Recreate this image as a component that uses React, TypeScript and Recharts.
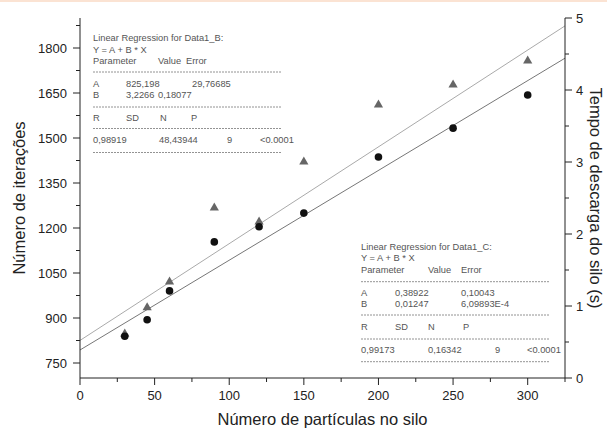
import { ComposedChart, Line, Scatter, XAxis, YAxis } from "recharts";

const particles = [30, 45, 60, 90, 120, 150, 200, 250, 300];
const iterations = [850, 937, 1023, 1270, 1223, 1423, 1613, 1680, 1760];
const dischargeTime = [0.58, 0.81, 1.21, 1.89, 2.1, 2.29, 3.07, 3.47, 3.93];
// regression lines, end points read at x = 0 and x = 325
const fitIterations = [{ x: 0, y: 825.2 }, { x: 325, y: 1873.8 }];
const fitTime = [{ x: 0, y: 0.389 }, { x: 325, y: 4.442 }];

const xTicks = [0, 25, 50, 75, 100, 125, 150, 175, 200, 225, 250, 275, 300, 325];
const leftTicks = [750, 825, 900, 975, 1050, 1125, 1200, 1275, 1350, 1425, 1500, 1575, 1650, 1725, 1800, 1875];
const rightTicks = [0, 0.5, 1, 1.5, 2, 2.5, 3, 3.5, 4, 4.5, 5];

const font = "'Liberation Sans', Arial, sans-serif";
const ink = "#222";
const boxInk = "#555";

const triangleData = particles.map((x, i) => ({ x, y: iterations[i] }));
const circleData = particles.map((x, i) => ({ x, y: dischargeTime[i] }));

function BottomTick({ x, y, payload }: any) {
  const major = payload.value % 50 === 0 && payload.value <= 300;
  return (
    <g>
      <line x1={x} y1={y} x2={x} y2={y + (major ? 7 : 4)} stroke={ink} />
      {major && (
        <text x={x} y={y + 22} textAnchor="middle" fontSize={13} fontFamily={font} fill={ink}>
          {payload.value}
        </text>
      )}
    </g>
  );
}

function TopTick({ x, y, payload }: any) {
  const major = payload.value % 50 === 0;
  return <line x1={x} y1={y} x2={x} y2={y + (major ? 7 : 4)} stroke={ink} />;
}

function LeftTick({ x, y, payload }: any) {
  const major = (payload.value - 750) % 150 === 0;
  return (
    <g>
      <line x1={x} y1={y} x2={x - (major ? 7 : 4)} y2={y} stroke={ink} />
      {major && (
        <text x={x - 13} y={y} dy="0.36em" textAnchor="end" fontSize={13} fontFamily={font} fill={ink}>
          {payload.value}
        </text>
      )}
    </g>
  );
}

function RightTick({ x, y, payload }: any) {
  const major = Number.isInteger(payload.value);
  return (
    <g>
      <line x1={x} y1={y} x2={x + (major ? 7 : 4)} y2={y} stroke={ink} />
      {major && (
        <text x={x + 11} y={y} dy="0.36em" textAnchor="start" fontSize={13} fontFamily={font} fill={ink}>
          {payload.value}
        </text>
      )}
    </g>
  );
}

const Triangle = (p: any) => (
  <path d={`M${p.cx},${p.cy - 4.6} L${p.cx + 4.6},${p.cy + 3.4} L${p.cx - 4.6},${p.cy + 3.4} Z`} fill="#666" />
);
const Dot = (p: any) => <circle cx={p.cx} cy={p.cy} r={3.8} fill="#111" />;

function T({ x, y, children }: { x: number; y: number; children: string }) {
  return (
    <text x={x} y={y} fontSize={9.3} fontFamily={font} fill={boxInk}>
      {children}
    </text>
  );
}

function Dash({ x1, x2, y }: { x1: number; x2: number; y: number }) {
  return <line x1={x1} x2={x2} y1={y} y2={y} stroke="#777" strokeWidth={0.8} strokeDasharray="2 1" />;
}

export default function App() {
  return (
    <div style={{ position: "absolute", left: 0, top: 0, width: 607, height: 434, background: "#fff" }}>
      <div style={{ position: "absolute", left: 0, top: 0, width: 607, height: 2, background: "#fbe3d3" }} />
      <ComposedChart width={607} height={434} margin={{ top: 18, right: 0, bottom: 0, left: 0 }}>
        <XAxis
          xAxisId="b"
          dataKey="x"
          type="number"
          domain={[0, 325]}
          ticks={xTicks}
          interval={0}
          allowDataOverflow
          height={56}
          tickSize={0}
          tickMargin={0}
          tick={<BottomTick />}
          axisLine={{ stroke: ink }}
        />
        <XAxis
          xAxisId="t"
          orientation="top"
          dataKey="x"
          type="number"
          domain={[0, 325]}
          ticks={xTicks}
          interval={0}
          allowDataOverflow
          height={0}
          tickSize={0}
          tickMargin={0}
          tick={<TopTick />}
          axisLine={{ stroke: ink }}
        />
        <YAxis
          yAxisId="left"
          type="number"
          domain={[700, 1900]}
          ticks={leftTicks}
          interval={0}
          allowDataOverflow
          width={80}
          tickSize={0}
          tickMargin={0}
          tick={<LeftTick />}
          axisLine={{ stroke: ink }}
        />
        <YAxis
          yAxisId="right"
          orientation="right"
          type="number"
          domain={[0, 5]}
          ticks={rightTicks}
          interval={0}
          allowDataOverflow
          width={42}
          tickSize={0}
          tickMargin={0}
          tick={<RightTick />}
          axisLine={{ stroke: ink }}
        />
        <Line xAxisId="b" yAxisId="left" data={fitIterations} dataKey="y" type="linear" stroke="#aaa" strokeWidth={1} dot={false} isAnimationActive={false} />
        <Line xAxisId="b" yAxisId="right" data={fitTime} dataKey="y" type="linear" stroke="#777" strokeWidth={1} dot={false} isAnimationActive={false} />
        <Scatter xAxisId="b" yAxisId="left" data={triangleData} dataKey="y" shape={Triangle} isAnimationActive={false} />
        <Scatter xAxisId="b" yAxisId="right" data={circleData} dataKey="y" shape={Dot} isAnimationActive={false} />
      </ComposedChart>
      <svg width={607} height={434} style={{ position: "absolute", left: 0, top: 0, pointerEvents: "none" }}>
        <text x={19} y={198} transform="rotate(-90 19 198)" textAnchor="middle" dominantBaseline="central" fontSize={16.5} fontFamily={font} fill={ink}>
          Número de iterações
        </text>
        <text x={596} y={198} transform="rotate(90 596 198)" textAnchor="middle" dominantBaseline="central" fontSize={16.5} fontFamily={font} fill={ink}>
          Tempo de descarga do silo (s)
        </text>
        <text x={322.5} y={425} textAnchor="middle" fontSize={16.5} fontFamily={font} fill={ink}>
          Número de partículas no silo
        </text>

        <T x={93} y={41}>Linear Regression for Data1_B:</T>
        <T x={93} y={53}>Y = A + B * X</T>
        <T x={93} y={64}>Parameter</T>
        <T x={158} y={64}>Value</T>
        <T x={186} y={64}>Error</T>
        <Dash x1={93} x2={282} y={72} />
        <T x={93} y={87}>A</T>
        <T x={126} y={87}>825,198</T>
        <T x={192} y={87}>29,76685</T>
        <T x={93} y={98}>B</T>
        <T x={126} y={98}>3,2266</T>
        <T x={158} y={98}>0,18077</T>
        <Dash x1={93} x2={282} y={107} />
        <T x={93} y={121}>R</T>
        <T x={126} y={121}>SD</T>
        <T x={160} y={121}>N</T>
        <T x={191} y={121}>P</T>
        <Dash x1={93} x2={282} y={128.5} />
        <T x={93} y={143}>0,98919</T>
        <T x={159} y={143}>48,43944</T>
        <T x={227} y={143}>9</T>
        <T x={260} y={143}>&lt;0.0001</T>
        <Dash x1={93} x2={282} y={152.5} />

        <T x={361} y={250}>Linear Regression for Data1_C:</T>
        <T x={361} y={261}>Y = A + B * X</T>
        <T x={361} y={273}>Parameter</T>
        <T x={428} y={273}>Value</T>
        <T x={461} y={273}>Error</T>
        <Dash x1={361} x2={549} y={281.7} />
        <T x={361} y={296}>A</T>
        <T x={395} y={296}>0,38922</T>
        <T x={461} y={296}>0,10043</T>
        <T x={361} y={307}>B</T>
        <T x={395} y={307}>0,01247</T>
        <T x={461} y={307}>6,09893E-4</T>
        <Dash x1={361} x2={549} y={315} />
        <T x={361} y={330}>R</T>
        <T x={395} y={330}>SD</T>
        <T x={428} y={330}>N</T>
        <T x={463} y={330}>P</T>
        <Dash x1={361} x2={549} y={339} />
        <T x={361} y={353}>0,99173</T>
        <T x={428} y={353}>0,16342</T>
        <T x={495} y={353}>9</T>
        <T x={527} y={353}>&lt;0.0001</T>
        <Dash x1={361} x2={549} y={361.7} />
      </svg>
    </div>
  );
}
